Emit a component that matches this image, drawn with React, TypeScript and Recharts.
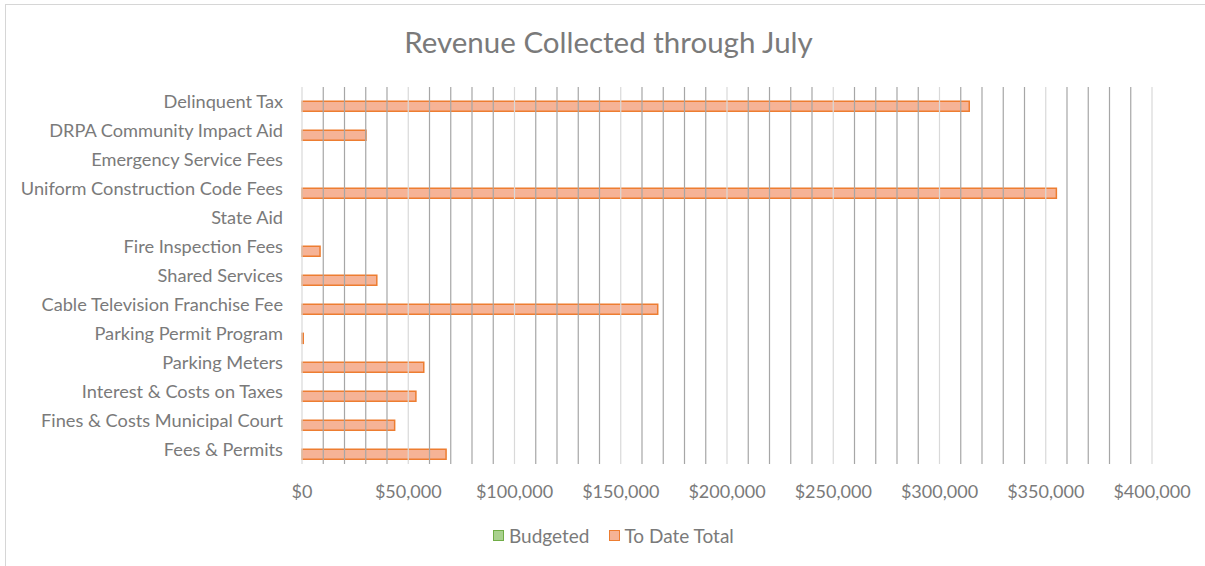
import React from 'react';
import { BarChart, Bar, XAxis, YAxis, ReferenceLine, Legend } from 'recharts';

const categories = [
  'Delinquent Tax',
  'DRPA Community Impact Aid',
  'Emergency Service Fees',
  'Uniform Construction Code Fees',
  'State Aid',
  'Fire Inspection Fees',
  'Shared Services',
  'Cable Television Franchise Fee',
  'Parking Permit Program',
  'Parking Meters',
  'Interest & Costs on Taxes',
  'Fines & Costs Municipal Court',
  'Fees & Permits',
];
const budgeted = [0, 0, 0, 0, 0, 0, 0, 0, 0, 0, 0, 0, 0];
const toDateTotal = [314000, 30100, 0, 355000, 0, 8500, 35200, 167400, 600, 57300, 53600, 43600, 67800];
const xTicks = [0, 50000, 100000, 150000, 200000, 250000, 300000, 350000, 400000];
const seriesNames = ['Budgeted', 'To Date Total'];
const title = 'Revenue Collected through July';

const data = categories.map((name, i) => ({ name, budgeted: budgeted[i], toDate: toDateTotal[i] }));

const FONT = 'Lato, "Open Sans", sans-serif';
const TEXT = '#7a7a7a';
const GREEN_FILL = '#a9d18e';
const GREEN_STROKE = '#70ad47';
const ORANGE_FILL = '#f6b396';
const ORANGE_STROKE = '#ed7d31';

const gridValues: number[] = [];
for (let v = 0; v <= 400000; v += 10000) gridValues.push(v);

const fmt = (v: number) => '$' + v.toLocaleString('en-US');

const renderLegend = () => (
  <div style={{ display: 'flex', alignItems: 'center', height: 40, paddingLeft: 493, fontFamily: FONT, fontSize: 19, color: TEXT, transform: 'translateY(3px)' }}>
    <span style={{ display: 'inline-block', width: 9, height: 9, background: GREEN_FILL, border: `1.5px solid ${GREEN_STROKE}`, marginRight: 5 }} />
    <span style={{ marginRight: 20 }}>{seriesNames[0]}</span>
    <span style={{ display: 'inline-block', width: 9, height: 9, background: ORANGE_FILL, border: `1.5px solid ${ORANGE_STROKE}`, marginRight: 4 }} />
    <span>{seriesNames[1]}</span>
  </div>
);

export default function App() {
  return (
    <div style={{ position: 'absolute', left: 0, top: 0, width: 1205, height: 566, overflow: 'hidden', background: '#fff', fontFamily: FONT }}>
      <div style={{ position: 'absolute', left: 5, top: 4, width: 1250, height: 600, borderLeft: '1px solid #d6d6d6', borderTop: '1px solid #d6d6d6' }} />
      <div style={{ position: 'absolute', left: 0, top: 23, width: 1217, textAlign: 'center', fontSize: 29.5, color: TEXT, lineHeight: '38px' }}>{title}</div>
      <div style={{ position: 'absolute', left: 0, top: 0 }}>
        <BarChart
          width={1205}
          height={566}
          data={data}
          layout="vertical"
          margin={{ top: 87, right: 53, bottom: 14, left: 0 }}
          barCategoryGap="15%"
          barGap={0}
        >
          <XAxis
            type="number"
            domain={[0, 400000]}
            ticks={xTicks}
            tickFormatter={fmt}
            axisLine={false}
            tickLine={false}
            tickSize={0}
            tickMargin={21}
            height={48}
            interval={0}
            tick={{ fill: TEXT, fontSize: 18, fontFamily: FONT }}
          />
          <YAxis
            type="category"
            dataKey="name"
            width={302}
            axisLine={false}
            tickLine={false}
            tickSize={0}
            tickMargin={19}
            interval={0}
            tick={{ fill: TEXT, fontSize: 18.2, fontFamily: FONT }}
          />
          {gridValues.map((v) => (
            <ReferenceLine key={v} x={v} stroke={v % 50000 === 0 ? '#d9d9d9' : '#a6a6a6'} strokeWidth={1.2} ifOverflow="extendDomain" />
          ))}
          <Legend verticalAlign="bottom" content={renderLegend} />
          <Bar dataKey="budgeted" name={seriesNames[0]} fill={GREEN_FILL} stroke={GREEN_STROKE} strokeWidth={1.5} isAnimationActive={false} />
          <Bar dataKey="toDate" name={seriesNames[1]} fill={ORANGE_FILL} stroke={ORANGE_STROKE} strokeWidth={1.5} isAnimationActive={false} />
        </BarChart>
      </div>
    </div>
  );
}
